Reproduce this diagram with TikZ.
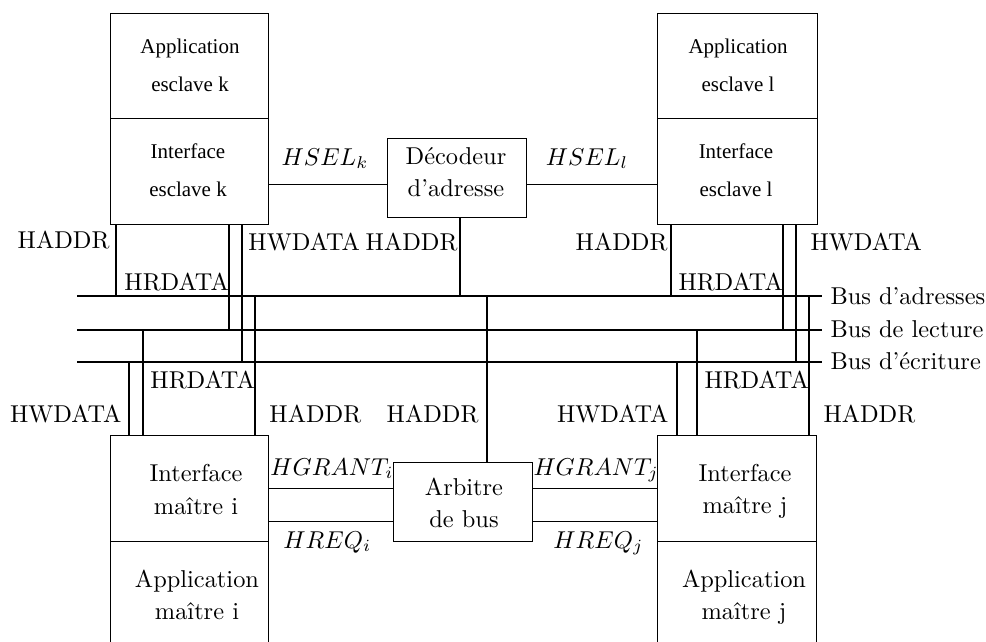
\documentclass[tikz,border=0pt]{standalone}
\usepackage{fontspec}
\newfontfamily\tms{Liberation Serif}
\begin{document}
\begin{tikzpicture}[x=0.41pt,y=-0.41pt,
  box/.style={draw,line width=0.4pt,rectangle,inner sep=0pt,outer sep=0pt},
  wh/.style 2 args={minimum width=#1*0.41pt,minimum height=#2*0.41pt},
  bus/.style={line width=0.85pt},
  sig/.style={line width=0.4pt},
  lbl/.style={inner sep=0pt,font=\fontsize{10}{12}\selectfont},
  blk/.style={inner sep=0pt,align=center,font=\fontsize{10}{13.2}\selectfont},
  tblk/.style={inner sep=0pt,align=center,font=\tms\fontsize{8.6}{15.6}\selectfont}]

\useasboundingbox (0,0) rectangle (986,641);
\clip (0,0) rectangle (986,641);

% --- blocks ---
\node[box,wh={158}{105}] (appk) at (189,65.5) {};
\node[box,wh={158}{106}] (intk) at (189,171) {};
\node[box,wh={160}{105}] (appl) at (737,65.5) {};
\node[box,wh={160}{106}] (intl) at (737,171) {};
\node[box,wh={139}{79}]  (dec)  at (456.5,177.5) {};
\node[box,wh={158}{106}] (inti) at (189,488) {};
\node[box,wh={158}{120}] (appi) at (189,601) {};
\node[box,wh={159}{106}] (intj) at (736.5,488) {};
\node[box,wh={159}{120}] (appj) at (736.5,601) {};
\node[box,wh={139}{79}]  (arb)  at (462.5,501.5) {};

% --- block texts ---
\node[tblk] (tappk) at (190,65) {Application\\esclave k};
\node[tblk] (tintk) at (188,170.5) {Interface\\esclave k};
\node[tblk] (tappl) at (738,65) {Application\\esclave l};
\node[tblk] (tintl) at (736,170.5) {Interface\\esclave l};
\node[blk] (tdec) at (456,172.5) {Décodeur\\d'adresse};
\node[blk] (tinti) at (196,489.5) {Interface\\maître i};
\node[blk] (tappi) at (197,594.5) {Application\\maître i};
\node[blk] (tintj) at (745,491) {Interface\\maître j};
\node[blk] (tappj) at (744,597) {Application\\maître j};
\node[blk] (tarb) at (464,503) {Arbitre\\de bus};

% --- buses ---
\coordinate (aL) at (77,296); \coordinate (aR) at (822,296);
\coordinate (rL) at (77,330); \coordinate (rR) at (822,330);
\coordinate (wL) at (77,362); \coordinate (wR) at (822,362);
\draw[bus] (aL) -- (aR);
\draw[bus] (rL) -- (rR);
\draw[bus] (wL) -- (wR);
\node[lbl,anchor=base west] (laA) at (830,304) {Bus d'adresses};
\node[lbl,anchor=base west] (laR) at (830,337) {Bus de lecture};
\node[lbl,anchor=base west] (laW) at (830,369) {Bus d'écriture};

% --- taps on the buses ---
\coordinate (kA) at (116,296); \coordinate (kR) at (229,330); \coordinate (kW) at (242,362);
\coordinate (dA) at (460,296);
\coordinate (lA) at (671,296); \coordinate (lR) at (783,330); \coordinate (lW) at (796,362);
\coordinate (iW) at (129,362); \coordinate (iR) at (143,330); \coordinate (iA) at (255,296);
\coordinate (bA) at (487,296);
\coordinate (jW) at (677,362); \coordinate (jR) at (697,330); \coordinate (jA) at (809,296);

\draw[bus] (intk.south -| kA) -- (kA);
\draw[bus] (intk.south -| kR) -- (kR);
\draw[bus] (intk.south -| kW) -- (kW);
\draw[bus] (dec.south -| dA) -- (dA);
\draw[bus] (intl.south -| lA) -- (lA);
\draw[bus] (intl.south -| lR) -- (lR);
\draw[bus] (intl.south -| lW) -- (lW);
\draw[bus] (iW) -- (inti.north -| iW);
\draw[bus] (iR) -- (inti.north -| iR);
\draw[bus] (iA) -- (inti.north -| iA);
\draw[bus] (bA) -- (arb.north -| bA);
\draw[bus] (jW) -- (intj.north -| jW);
\draw[bus] (jR) -- (intj.north -| jR);
\draw[bus] (jA) -- (intj.north -| jA);

% --- point-to-point signals ---
\coordinate (selY) at (0,184);
\coordinate (reqY) at (0,521);
\draw[sig] (intk.east |- selY) -- (dec.west |- selY);
\draw[sig] (dec.east |- selY) -- (intl.west |- selY);
\draw[sig] (inti.east) -- (arb.west |- inti.east);
\draw[sig] (inti.east |- reqY) -- (arb.west |- reqY);
\draw[sig] (arb.east |- intj.west) -- (intj.west);
\draw[sig] (arb.east |- reqY) -- (intj.west |- reqY);

% --- signal labels ---
\node[lbl,anchor=base] (lselk) at (325,165) {$HSEL_k$};
\node[lbl,anchor=base] (lsell) at (587,165) {$HSEL_l$};
\node[lbl,anchor=base west] (lgnti) at (270,475) {$HGRANT_i$};
\node[lbl,anchor=base west] (lreqi) at (283,548) {$HREQ_i$};
\node[lbl,anchor=base west] (lgntj) at (533,475) {$HGRANT_j$};
\node[lbl,anchor=base west] (lreqj) at (553,548) {$HREQ_j$};

\node[lbl,anchor=base east] (lkA) at (110,248) {HADDR};
\node[lbl,anchor=base west] (lkR) at (124,290) {HRDATA};
\node[lbl,anchor=base west] (lkW) at (248,250) {HWDATA};
\node[lbl,anchor=base east] (ldA) at (458,250) {HADDR};
\node[lbl,anchor=base east] (llA) at (668,250) {HADDR};
\node[lbl,anchor=base west] (llR) at (678,290) {HRDATA};
\node[lbl,anchor=base west] (llW) at (810,250) {HWDATA};
\node[lbl,anchor=base west] (liR) at (150,388) {HRDATA};
\node[lbl,anchor=base east] (liW) at (122,422) {HWDATA};
\node[lbl,anchor=base west] (liA) at (269,422) {HADDR};
\node[lbl,anchor=base east] (lbA) at (479,422) {HADDR};
\node[lbl,anchor=base east] (ljW) at (669,422) {HWDATA};
\node[lbl,anchor=base west] (ljR) at (704,388) {HRDATA};
\node[lbl,anchor=base west] (ljA) at (823,422) {HADDR};
\end{tikzpicture}
\end{document}
